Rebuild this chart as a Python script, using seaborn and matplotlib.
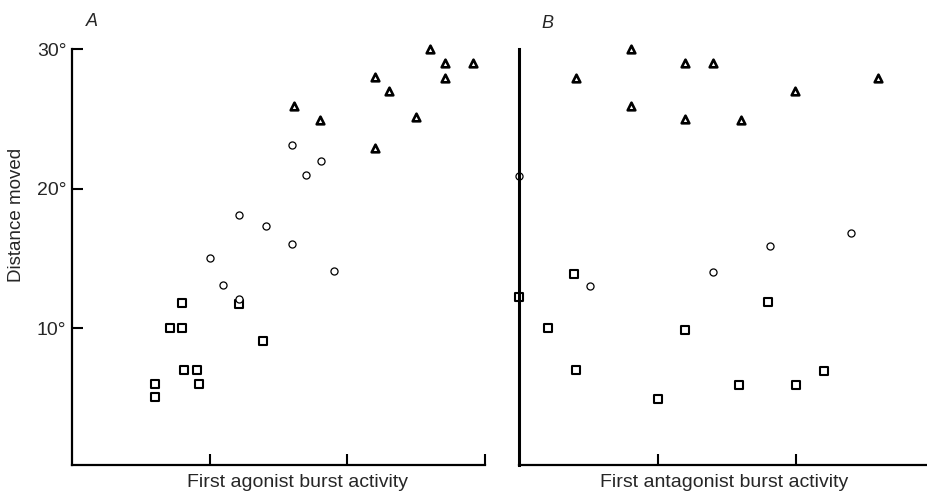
import matplotlib
matplotlib.use('Agg')
import matplotlib.pyplot as plt
import seaborn as sns
import pandas as pd

sns.set_theme(style='white')
plt.rcParams['font.family'] = ['Liberation Sans', 'DejaVu Sans']

# ---------------- data ----------------
# Panel A: first agonist burst activity vs distance moved
a_sq_x = [0.60, 0.60, 0.71, 0.80, 0.80, 0.81, 0.91, 0.92, 1.21, 1.39]
a_sq_y = [6.0, 5.1, 10.0, 10.0, 11.8, 7.0, 7.0, 6.0, 11.7, 9.1]
a_ci_x = [1.00, 1.10, 1.21, 1.21, 1.41, 1.60, 1.60, 1.70, 1.81, 1.90]
a_ci_y = [15.0, 13.1, 18.1, 12.1, 17.3, 16.0, 23.1, 21.0, 22.0, 14.1]
a_tr_x = [1.61, 1.80, 2.20, 2.20, 2.30, 2.50, 2.60, 2.71, 2.71, 2.91]
a_tr_y = [25.9, 24.9, 22.9, 28.0, 27.0, 25.1, 30.0, 29.0, 27.9, 29.0]

# Panel B: first antagonist burst activity vs distance moved
b_sq_x = [0.00, 0.21, 0.40, 0.41, 1.00, 1.20, 1.59, 1.80, 2.00, 2.20]
b_sq_y = [12.2, 10.0, 13.9, 7.0, 4.9, 9.9, 5.9, 11.9, 5.95, 6.95]
b_ci_x = [0.00, 0.51, 1.40, 1.81, 2.40]
b_ci_y = [20.9, 13.0, 14.0, 15.9, 16.8]
b_tr_x = [0.41, 0.81, 0.81, 1.20, 1.20, 1.40, 1.60, 1.99, 2.59]
b_tr_y = [27.9, 30.0, 25.9, 29.0, 25.0, 29.0, 24.9, 27.0, 27.9]

y_ticks = [10, 20, 30]
y_tick_labels = ['10°', '20°', '30°']
a_x_ticks = [1, 2, 3]
b_x_ticks = [1, 2]


def frame(xs, ys, kind):
    return pd.DataFrame({'x': xs, 'y': ys, 'kind': kind})


df_a = pd.concat([frame(a_sq_x, a_sq_y, 'square'),
                  frame(a_ci_x, a_ci_y, 'circle'),
                  frame(a_tr_x, a_tr_y, 'triangle')], ignore_index=True)
df_b = pd.concat([frame(b_sq_x, b_sq_y, 'square'),
                  frame(b_ci_x, b_ci_y, 'circle'),
                  frame(b_tr_x, b_tr_y, 'triangle')], ignore_index=True)

styles = {
    'square': dict(marker='s', s=26, linewidth=1.5),
    'circle': dict(marker='o', s=26, linewidth=0.9),
    'triangle': dict(marker='^', s=30, linewidth=1.9),
}

fig = plt.figure(figsize=(9.28, 4.93), dpi=100)
W, H = 928, 493
ax_a = fig.add_axes([72 / W, (H - 465) / H, 413 / W, (465 - 49) / H])
ax_b = fig.add_axes([519 / W, (H - 465) / H, (928 - 519) / W, (465 - 49) / H])

for ax, df in ((ax_a, df_a), (ax_b, df_b)):
    for kind, st in styles.items():
        sub = df[df['kind'] == kind]
        sns.scatterplot(data=sub, x='x', y='y', ax=ax, color='white',
                        edgecolor='black', clip_on=False, legend=False, **st)
    ax.set_ylim(0.2, 30)
    for side in ('top', 'right'):
        ax.spines[side].set_visible(False)
    for side in ('left', 'bottom'):
        ax.spines[side].set_color('black')
        ax.spines[side].set_linewidth(1.6)
    ax.set_facecolor('white')

ax_a.set_xlim(0, 3)
ax_b.set_xlim(0, (928 - 519) / 138.5)
ax_b.spines['left'].set_linewidth(2.2)

ax_a.set_yticks(y_ticks)
ax_a.set_yticklabels(y_tick_labels, fontsize=14)
ax_a.set_xticks(a_x_ticks)
ax_a.set_xticklabels([])
ax_a.tick_params(axis='both', direction='in', length=8, width=1.5,
                 color='black', pad=4, left=True, bottom=True)

ax_b.set_yticks([])
ax_b.set_xticks(b_x_ticks)
ax_b.set_xticklabels([])
ax_b.tick_params(axis='x', direction='in', length=8, width=1.5,
                 color='black', bottom=True)

ax_a.set_xlabel('First agonist burst activity', fontsize=14, labelpad=4)
ax_a.xaxis.set_label_coords(0.545, -0.022)
ax_a.xaxis.label.set_va('top')
ax_b.set_xlabel('First antagonist burst activity', fontsize=14, labelpad=4)
ax_b.xaxis.set_label_coords(0.502, -0.022)
ax_b.xaxis.label.set_va('top')
ax_a.set_ylabel('Distance moved', fontsize=13.5)
ax_a.yaxis.set_label_coords(-0.114, 0.601)
ax_b.set_ylabel('')

fig.text(92 / W, 1 - 22 / H, 'A', fontsize=13, style='italic', ha='center', va='center')
fig.text(547 / W, 1 - 24 / H, 'B', fontsize=13, style='italic', ha='center', va='center')

fig.savefig('out.png', dpi=100, facecolor='white')
